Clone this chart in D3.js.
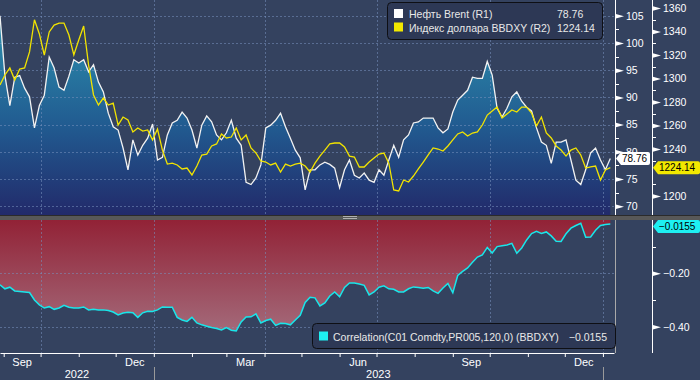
<!DOCTYPE html>
<html>
<head>
<meta charset="utf-8">
<script src="https://cdn.jsdelivr.net/npm/d3@7"></script>
<style>
body { margin: 0; background: #34425f; }
svg { display: block; font-family: "Liberation Sans", Arial, sans-serif; }
</style>
</head>
<body>
<script>
// every value is one sample, 4 days apart from the start date
var startDate = new Date(2022, 7, 29);
var stepDays = 4;

var brent = [105, 94.0, 88.5, 93.7, 94, 91.7, 90.1, 84.4, 88.5, 90.4,
	97.4, 95.4, 91.9, 91.3, 93.9, 96.9, 96.3, 96.9, 94.7, 96.0,
	92.8, 91.0, 87.1, 84.6, 84.0, 80.7, 76.7, 82.2, 79.4, 81.2,
	82.5, 85.1, 78.5, 79.0, 83.1, 85.3, 85.8, 87.3, 86.2, 84.0,
	80.7, 84.9, 86.6, 85.5, 83.1, 82.2, 83.5, 85.8, 82.5, 81.2,
	74.4, 74.0, 75.2, 77.6, 84.4, 84.9, 85.8, 87.1, 84.6, 82.5,
	80.3, 78.9, 73.0, 76.7, 76.7, 77.6, 78.1, 77.7, 77.0, 73.4,
	76.7, 78.5, 75.7, 75.2, 76.1, 74.8, 74.4, 76.7, 75.7, 78.5,
	81.2, 79.0, 82.2, 83.1, 85.3, 85.5, 86.2, 86.2, 86.2, 84.4,
	83.5, 84.2, 87.3, 89.5, 90.4, 91.3, 93.7, 93.5, 93.5, 96.6,
	94.1, 88.0, 86.4, 88.0, 90.1, 91.0, 89.3, 88.2, 87.5, 84.4,
	81.8, 81.2, 77.9, 81.8, 81.8, 82.2, 78.5, 74.8, 74.0, 76.7,
	79.8, 80.7, 78.5, 76.7, 78.76];

var bbdxy = [1294.5, 1303, 1309, 1298.7, 1308, 1309, 1322.6, 1350, 1337.9, 1320,
	1339.6, 1345.5, 1347.2, 1347.2, 1337, 1320, 1332.8, 1344.7, 1311.5, 1286,
	1277.4, 1283.4, 1277.4, 1279.1, 1260.4, 1267.2, 1264.7, 1254.5, 1257.9, 1255.3,
	1256.2, 1247.7, 1257, 1239, 1227.2, 1228, 1226.4, 1223, 1223.8, 1217.9,
	1225.5, 1234.9, 1235.7, 1242.6, 1244.3, 1252.8, 1249.4, 1250.2, 1257.9, 1247.7,
	1251.9, 1240.9, 1236.6, 1229.8, 1228.9, 1226.4, 1228, 1220.4, 1227.2, 1225.5,
	1227.2, 1228, 1225.5, 1220.4, 1228, 1234, 1239.1, 1244.3, 1245.1, 1245.1,
	1241.7, 1234, 1233.2, 1224.7, 1224.7, 1228.9, 1232.3, 1235.7, 1236.6, 1228,
	1205.1, 1204.3, 1213.6, 1211.9, 1217, 1223, 1228.9, 1234.9, 1240.9, 1240,
	1238.3, 1242.6, 1247.7, 1252.8, 1254.5, 1251.1, 1253.6, 1254.5, 1260.4, 1268.9,
	1272.3, 1275.7, 1266.4, 1269.8, 1273.2, 1271.5, 1275.7, 1275.7, 1270.6, 1259.6,
	1267.2, 1253.6, 1249.4, 1242.6, 1239.1, 1234, 1239.1, 1240.9, 1234.9, 1223.8,
	1224.7, 1225.5, 1213.6, 1222.1, 1224.14];

var corr = [-0.243, -0.258, -0.252, -0.266, -0.268, -0.270, -0.272, -0.300, -0.318, -0.330,
	-0.325, -0.335, -0.330, -0.320, -0.327, -0.330, -0.330, -0.326, -0.337, -0.335,
	-0.337, -0.337, -0.339, -0.345, -0.356, -0.349, -0.346, -0.348, -0.365, -0.348,
	-0.342, -0.343, -0.337, -0.326, -0.327, -0.327, -0.365, -0.375, -0.380, -0.365,
	-0.386, -0.393, -0.398, -0.403, -0.407, -0.412, -0.403, -0.413, -0.416, -0.382,
	-0.364, -0.363, -0.352, -0.386, -0.377, -0.372, -0.395, -0.387, -0.388, -0.393,
	-0.375, -0.357, -0.309, -0.290, -0.292, -0.322, -0.311, -0.285, -0.270, -0.288,
	-0.253, -0.236, -0.236, -0.240, -0.245, -0.281, -0.270, -0.252, -0.247, -0.258,
	-0.260, -0.270, -0.270, -0.258, -0.251, -0.253, -0.256, -0.253, -0.266, -0.275,
	-0.255, -0.238, -0.273, -0.208, -0.193, -0.180, -0.159, -0.139, -0.131, -0.103,
	-0.124, -0.100, -0.097, -0.094, -0.088, -0.125, -0.105, -0.075, -0.051, -0.043,
	-0.051, -0.045, -0.060, -0.080, -0.081, -0.052, -0.031, -0.021, -0.013, -0.065,
	-0.064, -0.039, -0.021, -0.017, -0.0155];

var r1Ticks = [70, 75, 80, 85, 90, 95, 100, 105];
var r2Ticks = [1200, 1240, 1260, 1280, 1300, 1320, 1340, 1360]; // 1220 sits under the value tag
var corrTicks = [-0.4, -0.2];
var years = ["2022", "2023"];
var legendNames = ["Нефть Brent (R1)", "Индекс доллара BBDXY (R2)"];
var corrName = "Correlation(C01 Comdty,PR005,120,0) (BBDXY)";

var dates = brent.map(function(d, i) {
	return d3.timeDay.offset(startDate, i * stepDays);
});

var w = 700, h = 380;
var plotW = 614, topH = 215, lowTop = 220, lowBottom = 353;
var bg = "#34425f";
var gridColor = "rgba(120,145,190,0.55)";

var x = d3.scaleTime()
	.domain([new Date(2022, 7, 29), new Date(2024, 0, 10)])
	.range([0, plotW]);
var y1 = d3.scaleLinear().domain([70, 105]).range([206.3, 15.7]);
var y2 = d3.scaleLinear().domain([1200, 1360]).range([196, 8]);
var yc = d3.scaleLinear().domain([-0.4, -0.2]).range([326.7, 273.3]);

var svg = d3.select("body").append("svg")
	.attr("width", w)
	.attr("height", h);

svg.append("rect").attr("width", w).attr("height", h).attr("fill", bg);

var defs = svg.append("defs");
defs.append("clipPath").attr("id", "clipTop")
	.append("rect").attr("x", 0).attr("y", 0).attr("width", plotW).attr("height", topH);
defs.append("clipPath").attr("id", "clipLow")
	.append("rect").attr("x", 0).attr("y", lowTop).attr("width", plotW).attr("height", lowBottom - lowTop);

var gBlue = defs.append("linearGradient").attr("id", "gBlue")
	.attr("gradientUnits", "userSpaceOnUse")
	.attr("x1", 0).attr("x2", 0).attr("y1", 40).attr("y2", topH);
gBlue.append("stop").attr("offset", 0).attr("stop-color", "#2a86a8");
gBlue.append("stop").attr("offset", 0.5).attr("stop-color", "#215a90");
gBlue.append("stop").attr("offset", 1).attr("stop-color", "#222a6a");

var gRed = defs.append("linearGradient").attr("id", "gRed")
	.attr("gradientUnits", "userSpaceOnUse")
	.attr("x1", 0).attr("x2", 0).attr("y1", lowTop).attr("y2", 335);
gRed.append("stop").attr("offset", 0).attr("stop-color", "#922236");
gRed.append("stop").attr("offset", 1).attr("stop-color", "#a46c7c");

// fills first, the dashed grid shows on top of them
var topG = svg.append("g").attr("clip-path", "url(#clipTop)");
topG.append("path")
	.datum(brent)
	.attr("fill", "url(#gBlue)")
	.attr("d", d3.area()
		.x(function(d, i) { return x(dates[i]); })
		.y0(topH)
		.y1(function(d) { return y1(d); }));

var lowG = svg.append("g").attr("clip-path", "url(#clipLow)");
lowG.append("path")
	.datum(corr)
	.attr("fill", "url(#gRed)")
	.attr("d", d3.area()
		.x(function(d, i) { return x(dates[i]); })
		.y0(yc(0))
		.y1(function(d) { return yc(d); }));

// grid
var quarters = d3.timeMonth.every(3).range(new Date(2022, 9, 1), new Date(2024, 0, 2));
svg.append("g").selectAll("line")
	.data(quarters)
	.enter()
	.append("line")
	.attr("x1", function(d) { return Math.round(x(d)) + 0.5; })
	.attr("x2", function(d) { return Math.round(x(d)) + 0.5; })
	.attr("y1", 0)
	.attr("y2", lowBottom)
	.attr("stroke", gridColor)
	.attr("stroke-dasharray", "2,2");

svg.append("g").selectAll("line")
	.data(r1Ticks)
	.enter()
	.append("line")
	.attr("x1", 0).attr("x2", plotW)
	.attr("y1", function(d) { return Math.round(y1(d)) + 0.5; })
	.attr("y2", function(d) { return Math.round(y1(d)) + 0.5; })
	.attr("stroke", gridColor)
	.attr("stroke-dasharray", "2,2");

svg.append("g").selectAll("line")
	.data(corrTicks)
	.enter()
	.append("line")
	.attr("x1", 0).attr("x2", plotW)
	.attr("y1", function(d) { return Math.round(yc(d)) + 0.5; })
	.attr("y2", function(d) { return Math.round(yc(d)) + 0.5; })
	.attr("stroke", gridColor)
	.attr("stroke-dasharray", "2,2");

// lines
var topLines = svg.append("g").attr("clip-path", "url(#clipTop)");
topLines.append("path")
	.datum(brent)
	.attr("fill", "none")
	.attr("stroke", "#f2f2f2")
	.attr("stroke-width", 1.3)
	.attr("d", d3.line()
		.x(function(d, i) { return x(dates[i]); })
		.y(function(d) { return y1(d); }));
topLines.append("path")
	.datum(bbdxy)
	.attr("fill", "none")
	.attr("stroke", "#f2e400")
	.attr("stroke-width", 1.3)
	.attr("d", d3.line()
		.x(function(d, i) { return x(dates[i]); })
		.y(function(d) { return y2(d); }));

svg.append("g").attr("clip-path", "url(#clipLow)")
	.append("path")
	.datum(corr)
	.attr("fill", "none")
	.attr("stroke", "#19e6ea")
	.attr("stroke-width", 1.5)
	.attr("d", d3.line()
		.x(function(d, i) { return x(dates[i]); })
		.y(function(d) { return yc(d); }));

// separator between panels
svg.append("rect").attr("x", 0).attr("y", topH).attr("width", w).attr("height", 5).attr("fill", "#585858");
svg.append("line").attr("x1", 0).attr("x2", w).attr("y1", topH + 0.5).attr("y2", topH + 0.5).attr("stroke", "#2b2b2b");
svg.append("line").attr("x1", 343).attr("x2", 357).attr("y1", 216.5).attr("y2", 216.5).attr("stroke", "#b0b0b0");
svg.append("line").attr("x1", 343).attr("x2", 357).attr("y1", 218.5).attr("y2", 218.5).attr("stroke", "#b0b0b0");

// right axes
function rightAxis(scale, ticks, fmt, xPos, yA, yB, minor) {
	var g = svg.append("g").attr("transform", "translate(" + xPos + ",0)");
	g.append("line").attr("x1", 0.5).attr("x2", 0.5).attr("y1", yA).attr("y2", yB)
		.attr("stroke", "#ffffff");
	g.selectAll(".minor")
		.data(minor)
		.enter()
		.append("line")
		.attr("x1", 0).attr("x2", 4)
		.attr("y1", function(d) { return Math.round(scale(d)) + 0.5; })
		.attr("y2", function(d) { return Math.round(scale(d)) + 0.5; })
		.attr("stroke", "#ffffff");
	var ax = g.append("g")
		.call(d3.axisRight(scale).tickValues(ticks).tickFormat(fmt).tickSize(0).tickPadding(11));
	ax.select(".domain").remove();
	ax.selectAll(".tick text")
		.attr("fill", "#ffffff")
		.attr("font-size", "10.5px")
		.attr("font-family", "Liberation Sans, Arial, sans-serif");
	ax.selectAll(".tick").append("path")
		.attr("d", "M0,-2.5L9,0L0,2.5Z")
		.attr("fill", "#ffffff");
}

rightAxis(y1, r1Ticks, d3.format("d"), 615, 0, topH, [72.5, 77.5, 82.5, 87.5, 92.5, 97.5, 102.5]);
rightAxis(y2, r2Ticks, d3.format("d"), 652, 0, topH, [1210, 1230, 1250, 1270, 1290, 1310, 1330, 1350]);
rightAxis(yc, corrTicks, d3.format(".2f"), 652, lowTop, lowBottom, [-0.3, -0.1]);
svg.append("line").attr("x1", 615.5).attr("x2", 615.5).attr("y1", lowTop).attr("y2", lowBottom)
	.attr("stroke", "#a9a9a9");

// bottom axis
var xAxis = svg.append("g")
	.attr("transform", "translate(0," + lowBottom + ")")
	.call(d3.axisBottom(x)
		.tickValues(d3.timeMonth.range(new Date(2022, 8, 1), new Date(2024, 0, 2)))
		.tickFormat("")
		.tickSize(4)
		.tickSizeOuter(0));
xAxis.select(".domain").attr("stroke", "#ffffff");
xAxis.selectAll(".tick line").attr("stroke", "#ffffff");

// every third month from Sep, written in the middle of the month
var labelMonths = d3.timeMonth.range(new Date(2022, 8, 1), new Date(2024, 0, 1), 3);
svg.append("g").selectAll("text")
	.data(labelMonths)
	.enter()
	.append("text")
	.text(d3.timeFormat("%b"))
	.attr("x", function(d) { return (x(d) + x(d3.timeMonth.offset(d, 1))) / 2; })
	.attr("y", 366)
	.attr("text-anchor", "middle")
	.attr("font-size", "11px")
	.attr("fill", "#ffffff");

var yearStarts = [new Date(2023, 0, 1), new Date(2024, 0, 1)];
svg.append("g").selectAll("line")
	.data(yearStarts)
	.enter()
	.append("line")
	.attr("x1", function(d) { return Math.round(x(d)) + 0.5; })
	.attr("x2", function(d) { return Math.round(x(d)) + 0.5; })
	.attr("y1", 367).attr("y2", h)
	.attr("stroke", "#9a9a9a");
svg.append("g").selectAll("text")
	.data(years)
	.enter()
	.append("text")
	.text(function(d) { return d; })
	.attr("x", function(d, i) {
		var a = i == 0 ? 0 : x(yearStarts[0]);
		return (a + x(yearStarts[i])) / 2;
	})
	.attr("y", 378)
	.attr("text-anchor", "middle")
	.attr("font-size", "11px")
	.attr("fill", "#ffffff");

// value tags on the axes
function tag(xPos, yPos, wTag, color, label) {
	var g = svg.append("g").attr("transform", "translate(" + xPos + "," + yPos + ")");
	g.append("path")
		.attr("d", "M0,0L5,-6.5H" + (wTag - 2) + "Q" + wTag + ",-6.5 " + wTag + ",-4.5V4.5Q" + wTag + ",6.5 " + (wTag - 2) + ",6.5H5Z")
		.attr("fill", color);
	g.append("text")
		.text(label)
		.attr("x", 6)
		.attr("y", 3.8)
		.attr("font-size", "10px")
		.attr("fill", "#000000");
}
var lastB = brent[brent.length - 1];
var lastD = bbdxy[bbdxy.length - 1];
var lastC = corr[corr.length - 1];
tag(616, y1(lastB), 34, "#ffffff", d3.format(".2f")(lastB));
tag(653, y2(lastD), 47, "#f2e800", d3.format(".2f")(lastD));
tag(653, Math.max(yc(lastC), 226.5), 47, "#1ef0f2", d3.format(".4f")(lastC));

// legends
function legendBox(bx, by, bw, bh) {
	svg.append("rect")
		.attr("x", bx + 0.5).attr("y", by + 0.5)
		.attr("width", bw).attr("height", bh)
		.attr("rx", 4)
		.attr("fill", "#2d3855")
		.attr("stroke", "#0e0f14");
}

legendBox(387, 2, 215, 37);
var legColors = ["#ffffff", "#f2e800"];
var legValues = [d3.format(".2f")(lastB), d3.format(".2f")(lastD)];
legendNames.forEach(function(name, i) {
	var ly = 18 + i * 13.5;
	svg.append("rect").attr("x", 394).attr("y", ly - 9).attr("width", 9).attr("height", 9)
		.attr("fill", legColors[i]);
	svg.append("text").text(name).attr("x", 409).attr("y", ly)
		.attr("font-size", "10.5px").attr("fill", "#e8e8e8");
	svg.append("text").text(legValues[i]).attr("x", 557).attr("y", ly)
		.attr("font-size", "10.5px").attr("fill", "#e8e8e8");
});

legendBox(312, 323, 303, 25);
svg.append("rect").attr("x", 319).attr("y", 331.5).attr("width", 9).attr("height", 9)
	.attr("fill", "#1ef0f2");
svg.append("text").text(corrName).attr("x", 333).attr("y", 340.5)
	.attr("font-size", "10.5px").attr("fill", "#e8e8e8");
svg.append("text").text(d3.format(".4f")(lastC)).attr("x", 607).attr("y", 340.5)
	.attr("text-anchor", "end")
	.attr("font-size", "10.5px").attr("fill", "#e8e8e8");
</script>
</body>
</html>
